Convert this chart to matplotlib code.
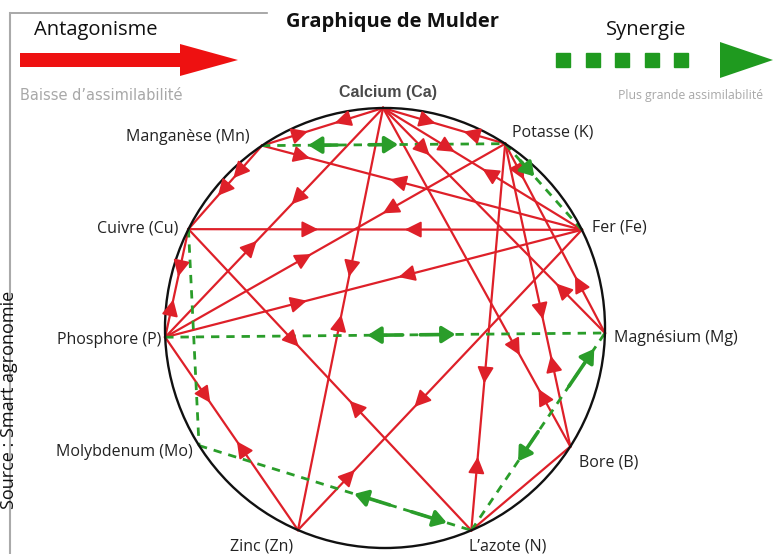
import numpy as np
import matplotlib
matplotlib.use('Agg')
import matplotlib.pyplot as plt
from matplotlib.patches import FancyArrow, Polygon, Circle

plt.rcParams['font.family'] = ['Open Sans', 'DejaVu Sans']

# elements around the circle (angle in degrees, counter-clockwise from east)
codes = ['Ca', 'K', 'Fe', 'Mg', 'B', 'N', 'Zn', 'Mo', 'P', 'Cu', 'Mn']
names = ['Calcium (Ca)', 'Potasse (K)', 'Fer (Fe)', 'Magnésium (Mg)', 'Bore (B)',
         'L’azote (N)', 'Zinc (Zn)', 'Molybdenum (Mo)', 'Phosphore (P)',
         'Cuivre (Cu)', 'Manganèse (Mn)']
angles = [90.5, 56.9, 26.5, -1.3, -32.6, -66.9, -113.3, 212.3, 182.4, 153.3, 124.0]

# antagonism links (red) : from, to, arrow marks (fraction along link, +1 towards "to")
antag_from = ['Ca', 'Mn', 'Cu', 'Cu', 'Cu', 'P', 'P', 'P', 'P', 'Zn', 'Zn',
              'N', 'N', 'K', 'Ca', 'Ca', 'Ca', 'Ca', 'K', 'Mn']
antag_to = ['Mn', 'Cu', 'P', 'Fe', 'N', 'Ca', 'K', 'Fe', 'Zn', 'Ca', 'Fe',
            'K', 'B', 'B', 'B', 'Mg', 'Fe', 'K', 'Mg', 'Fe']
antag_marks = [[(0.4, 1), (0.62, -1)], [(0.39, 1), (0.6, 1)], [(0.44, 1), (0.65, -1)],
               [(0.33, 1), (0.55, -1)], [(0.39, 1), (0.57, -1)], [(0.42, 1), (0.58, -1)],
               [(0.43, 1), (0.64, -1)], [(0.34, 1), (0.56, -1)], [(0.34, 1), (0.54, -1)],
               [(0.51, 1), (0.6, -1)], [(0.2, 1), (0.41, -1)], [(0.19, 1), (0.38, -1)],
               [], [(0.58, 1), (0.7, -1)], [(0.73, 1), (0.83, -1)],
               [(0.21, 1), (0.78, -1)], [(0.36, 1), (0.5, -1)], [(0.43, 1), (0.66, -1)],
               [(0.19, 1), (0.7, -1)], [(0.15, 1), (0.4, -1)]]

# synergy links (green dashed) : from, to, arrows (fraction start, fraction tip)
syn_from = ['Mn', 'K', 'P', 'Cu', 'Mo', 'N']
syn_to = ['K', 'Fe', 'Mg', 'Mo', 'N', 'Mg']
syn_marks = [[(0.31, 0.19), (0.44, 0.56)], [(0.2, 0.38)], [(0.54, 0.46), (0.58, 0.66)],
             [], [(0.70, 0.57), (0.78, 0.91)], [(0.5, 0.35), (0.73, 0.92)]]

RED = '#de2029'
GREEN = '#2a9d2a'
cx, cy, R = 385, 328, 220

pos = {}
for c, a in zip(codes, angles):
    r = np.radians(a)
    pos[c] = np.array([cx + R * np.cos(r), cy - R * np.sin(r)])

fig = plt.figure(figsize=(7.77, 5.54), dpi=100)
ax = fig.add_axes([0, 0, 1, 1])
ax.set_xlim(0, 777)
ax.set_ylim(554, 0)
ax.axis('off')

ax.add_patch(Circle((cx, cy), R, fill=False, ec='#111111', lw=1.7, zorder=3))

for a, b, marks in zip(antag_from, antag_to, antag_marks):
    p, q = pos[a], pos[b]
    ax.plot([p[0], q[0]], [p[1], q[1]], color=RED, lw=1.6, zorder=2)
    u = (q - p) / np.hypot(*(q - p))
    for t, d in marks:
        tip = p + (q - p) * t
        ax.annotate('', xy=tip, xytext=tip - d * u * 8,
                    arrowprops=dict(arrowstyle='-|>,head_length=0.9,head_width=0.45',
                                    color=RED, lw=1.4, shrinkA=0, shrinkB=0,
                                    mutation_scale=11), zorder=4)

for a, b, marks in zip(syn_from, syn_to, syn_marks):
    p, q = pos[a], pos[b]
    ax.plot([p[0], q[0]], [p[1], q[1]], color=GREEN, lw=2.0, ls=(0, (3, 2.5)), zorder=2.5)
    for t0, t1 in marks:
        ax.annotate('', xy=p + (q - p) * t1, xytext=p + (q - p) * t0,
                    arrowprops=dict(arrowstyle='-|>,head_length=0.8,head_width=0.5',
                                    color=GREEN, lw=2.6, shrinkA=0, shrinkB=0,
                                    mutation_scale=10), zorder=4)

# labels
label_off = {'Ca': (5, -16, 'center'), 'K': (7, -11, 'left'), 'Fe': (10, -2, 'left'),
             'Mg': (9, 5, 'left'), 'B': (9, 16, 'left'), 'N': (-2, 16, 'left'),
             'Zn': (-36, 16, 'center'), 'Mo': (-6, 6, 'right'), 'P': (-4, 3, 'right'),
             'Cu': (-10, -1, 'right'), 'Mn': (-12, -9, 'right')}
for c, name in zip(codes, names):
    dx, dy, ha = label_off[c]
    x, y = pos[c]
    if c == 'Ca':
        ax.text(x + dx, y + dy, name, ha=ha, va='center', fontsize=11.5,
                fontweight='bold', color='#4a4a4a', family='Liberation Sans')
    else:
        ax.text(x + dx, y + dy, name, ha=ha, va='center', fontsize=11.5, color='#222222')

# header
ax.plot([10, 267], [13, 13], color='#999999', lw=1.2)
ax.plot([10, 10], [13, 554], color='#aaaaaa', lw=1.5)
ax.text(34, 30, 'Antagonisme', fontsize=14.5, va='center', ha='left', color='#111111')
ax.add_patch(FancyArrow(20, 60, 218, 0, width=14, head_width=32, head_length=58,
                        length_includes_head=True, color='#ee1111', lw=0))
ax.text(20, 96, 'Baisse d’assimilabilité', fontsize=10.5, va='center', color='#a8a8a8',
        family='DejaVu Sans')

ax.text(392, 22, 'Graphique de Mulder', fontsize=14.5, fontweight='bold', ha='center',
        va='center', color='#111111')

ax.text(646, 30, 'Synergie', fontsize=14.5, va='center', ha='center', color='#111111')
ax.plot(np.arange(563, 690, 29.5), [60] * 5, ls='none', marker='s', ms=9.5,
        color='#1f9a1f')
ax.add_patch(Polygon([[720, 42], [773, 60], [720, 78]], closed=True, color='#1f9a1f', lw=0))
ax.text(690, 96, 'Plus grande assimilabilité', fontsize=8.8, va='center', ha='center',
        color='#a8a8a8')

# source, along the left edge
ax.text(9.5, 400, 'Source : Smart agronomie', rotation=90, fontsize=13, va='center',
        ha='center', color='#111111')

plt.savefig('out.png', dpi=100)
plt.close()
